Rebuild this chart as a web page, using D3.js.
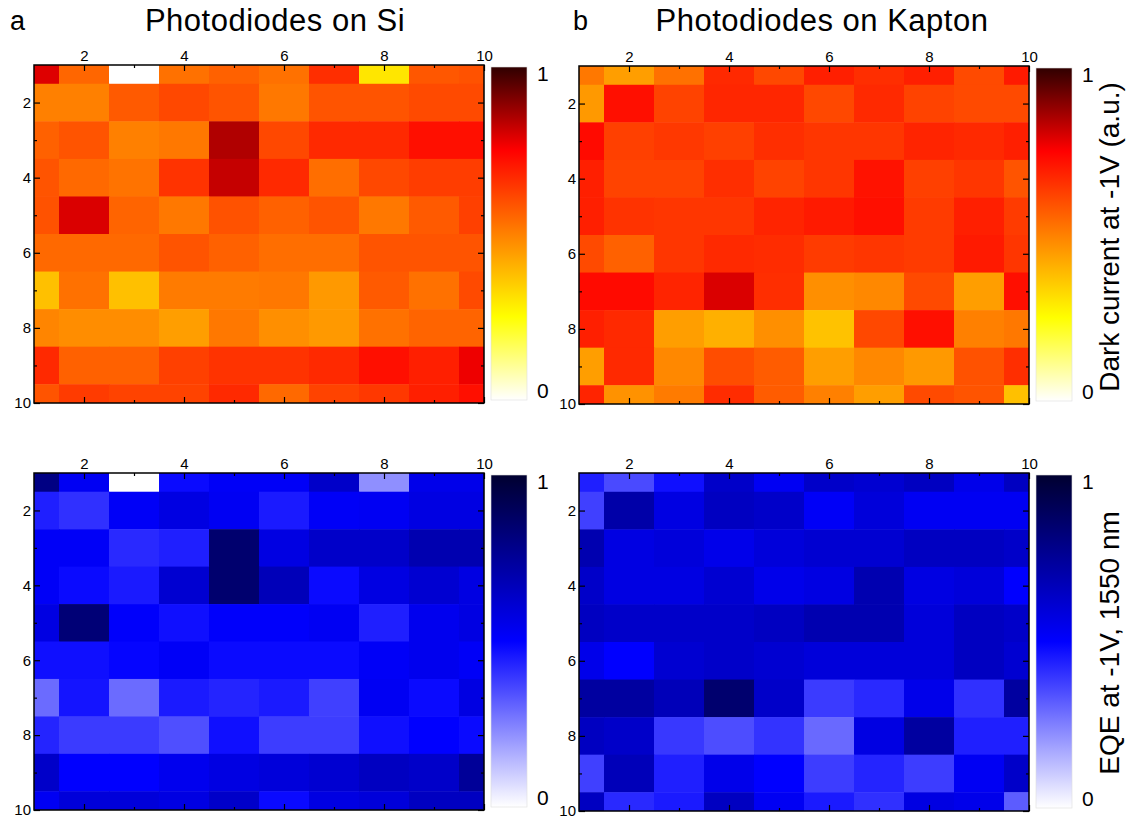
<!DOCTYPE html>
<html>
<head>
<meta charset="utf-8">
<style>
  body { margin: 0; background: #fff; }
  svg { font-family: "Liberation Sans", Arial, sans-serif; }
  .tick text { font-size: 15px; fill: #000; }
  .tick line { stroke: #000; stroke-width: 1.2; }
</style>
</head>
<body>
<svg width="1128" height="822"></svg>
<script src="https://d3js.org/d3.v7.min.js"></script>
<script>

// values, normalised 0..1, rows 1..10 top to bottom, columns 1..10
var siDark = [
  [0.79, 0.55, 0.00, 0.53, 0.56, 0.53, 0.66, 0.30, 0.58, 0.59],
  [0.50, 0.50, 0.575, 0.61, 0.585, 0.515, 0.585, 0.585, 0.605, 0.605],
  [0.56, 0.585, 0.50, 0.515, 0.845, 0.61, 0.67, 0.67, 0.72, 0.72],
  [0.585, 0.545, 0.525, 0.65, 0.82, 0.67, 0.535, 0.61, 0.63, 0.63],
  [0.59, 0.795, 0.555, 0.515, 0.59, 0.56, 0.585, 0.515, 0.575, 0.625],
  [0.545, 0.545, 0.545, 0.585, 0.56, 0.535, 0.535, 0.585, 0.585, 0.585],
  [0.375, 0.53, 0.375, 0.51, 0.51, 0.515, 0.45, 0.575, 0.53, 0.605],
  [0.49, 0.475, 0.475, 0.44, 0.515, 0.47, 0.45, 0.53, 0.555, 0.555],
  [0.67, 0.56, 0.56, 0.625, 0.65, 0.65, 0.67, 0.72, 0.69, 0.77],
  [0.585, 0.635, 0.62, 0.62, 0.67, 0.545, 0.62, 0.64, 0.69, 0.72]
];

var kaptonDark = [
  [0.515, 0.44, 0.53, 0.67, 0.61, 0.69, 0.66, 0.69, 0.605, 0.70],
  [0.45, 0.72, 0.62, 0.675, 0.675, 0.61, 0.67, 0.62, 0.605, 0.605],
  [0.73, 0.625, 0.64, 0.625, 0.66, 0.645, 0.645, 0.68, 0.67, 0.69],
  [0.69, 0.62, 0.62, 0.66, 0.62, 0.645, 0.715, 0.625, 0.645, 0.585],
  [0.69, 0.65, 0.645, 0.645, 0.68, 0.70, 0.72, 0.635, 0.69, 0.635],
  [0.605, 0.56, 0.645, 0.67, 0.665, 0.635, 0.645, 0.635, 0.70, 0.645],
  [0.73, 0.73, 0.68, 0.795, 0.66, 0.47, 0.485, 0.605, 0.44, 0.72],
  [0.69, 0.67, 0.44, 0.405, 0.47, 0.37, 0.61, 0.72, 0.50, 0.515],
  [0.44, 0.67, 0.485, 0.60, 0.57, 0.44, 0.485, 0.45, 0.59, 0.66],
  [0.68, 0.465, 0.51, 0.665, 0.57, 0.50, 0.44, 0.605, 0.585, 0.375]
];

var siEQE = [
  [0.80, 0.53, 0.00, 0.48, 0.52, 0.52, 0.63, 0.22, 0.55, 0.55],
  [0.44, 0.405, 0.52, 0.57, 0.53, 0.45, 0.52, 0.53, 0.57, 0.57],
  [0.52, 0.52, 0.42, 0.44, 0.85, 0.57, 0.63, 0.63, 0.69, 0.69],
  [0.52, 0.48, 0.45, 0.61, 0.85, 0.67, 0.48, 0.57, 0.61, 0.57],
  [0.57, 0.83, 0.51, 0.47, 0.51, 0.51, 0.53, 0.44, 0.54, 0.57],
  [0.47, 0.47, 0.49, 0.52, 0.48, 0.48, 0.48, 0.52, 0.54, 0.52],
  [0.29, 0.46, 0.29, 0.45, 0.43, 0.45, 0.375, 0.53, 0.48, 0.57],
  [0.43, 0.385, 0.385, 0.345, 0.47, 0.38, 0.38, 0.47, 0.50, 0.48],
  [0.63, 0.50, 0.50, 0.54, 0.57, 0.59, 0.61, 0.65, 0.63, 0.75],
  [0.53, 0.59, 0.59, 0.57, 0.63, 0.48, 0.57, 0.59, 0.65, 0.65]
];

var kaptonEQE = [
  [0.44, 0.355, 0.47, 0.63, 0.53, 0.63, 0.61, 0.65, 0.55, 0.65],
  [0.375, 0.71, 0.57, 0.65, 0.63, 0.52, 0.59, 0.53, 0.53, 0.53],
  [0.69, 0.57, 0.59, 0.55, 0.59, 0.61, 0.61, 0.65, 0.65, 0.63],
  [0.63, 0.57, 0.57, 0.61, 0.55, 0.57, 0.69, 0.57, 0.59, 0.50],
  [0.65, 0.63, 0.63, 0.63, 0.65, 0.69, 0.69, 0.59, 0.65, 0.63],
  [0.55, 0.50, 0.61, 0.63, 0.61, 0.59, 0.59, 0.59, 0.65, 0.61],
  [0.73, 0.73, 0.67, 0.85, 0.63, 0.385, 0.42, 0.55, 0.405, 0.73],
  [0.65, 0.63, 0.39, 0.35, 0.40, 0.295, 0.57, 0.73, 0.44, 0.44],
  [0.375, 0.67, 0.44, 0.55, 0.50, 0.38, 0.43, 0.38, 0.53, 0.63],
  [0.65, 0.42, 0.45, 0.65, 0.53, 0.45, 0.405, 0.57, 0.55, 0.32]
];

var majorTicks = [2, 4, 6, 8, 10];
var minorTicks = [3, 5, 7, 9];
var panelLetters = ["a", "b"];
var panelTitles = ["Photodiodes on Si", "Photodiodes on Kapton"];
var barTitles = ["Dark current at -1V (a.u.)", "EQE at -1V, 1550 nm"];

var svg = d3.select("svg");

// colour maps
var hot = d3.scaleLinear()
    .domain([0, 0.25, 0.5, 0.75, 1])
    .range(["#ffffff", "#ffff00", "#ff8000", "#ff0000", "#300000"])
    .clamp(true);

var blues = d3.scaleLinear()
    .domain([0, 0.5, 1])
    .range(["#ffffff", "#0000ff", "#000030"])
    .clamp(true);

var W = 450;

var panels = [
  { id: "p0", data: siDark,     x0: 34,  y0: 65,  h: 338, cmap: hot },
  { id: "p1", data: kaptonDark, x0: 579, y0: 66,  h: 338, cmap: hot },
  { id: "p2", data: siEQE,      x0: 34,  y0: 473, h: 337, cmap: blues },
  { id: "p3", data: kaptonEQE,  x0: 579, y0: 473, h: 338, cmap: blues }
];

var defs = svg.append("defs");

panels.forEach(function(p, i) {
  var x = d3.scaleLinear().domain([1, 10]).range([0, W]);
  var y = d3.scaleLinear().domain([1, 10]).range([0, p.h]);

  var g = svg.append("g").attr("transform", "translate(" + p.x0 + "," + p.y0 + ")");

  defs.append("clipPath").attr("id", "clip" + p.id)
    .append("rect").attr("width", W).attr("height", p.h);

  // cells
  var cells = [];
  p.data.forEach(function(row, r) {
    row.forEach(function(v, c) { cells.push({ row: r + 1, col: c + 1, v: v }); });
  });

  g.append("g").attr("clip-path", "url(#clip" + p.id + ")")
    .selectAll("rect")
    .data(cells)
    .enter().append("rect")
    .attr("x", function(d) { return x(d.col - 0.5); })
    .attr("y", function(d) { return y(d.row - 0.5); })
    .attr("width", x(1.5) - x(0.5) + 0.5)
    .attr("height", y(1.5) - y(0.5) + 0.5)
    .attr("fill", function(d) { return p.cmap(d.v); });

  // axes, ticks pointing inwards
  g.append("g").call(d3.axisTop(x).tickValues(majorTicks).tickSize(-6).tickPadding(4))
    .select(".domain").remove();
  g.append("g").call(d3.axisTop(x).tickValues(minorTicks).tickSize(-3).tickFormat(""))
    .select(".domain").remove();
  g.append("g").attr("transform", "translate(0," + p.h + ")")
    .call(d3.axisBottom(x).tickValues(majorTicks).tickSize(-6).tickFormat(""))
    .select(".domain").remove();
  g.append("g").attr("transform", "translate(0," + p.h + ")")
    .call(d3.axisBottom(x).tickValues(minorTicks).tickSize(-3).tickFormat(""))
    .select(".domain").remove();
  g.append("g").call(d3.axisLeft(y).tickValues(majorTicks).tickSize(-6).tickPadding(3))
    .select(".domain").remove();
  g.append("g").call(d3.axisLeft(y).tickValues(minorTicks).tickSize(-3).tickFormat(""))
    .select(".domain").remove();
  g.append("g").attr("transform", "translate(" + W + ",0)")
    .call(d3.axisRight(y).tickValues(majorTicks).tickSize(-6).tickFormat(""))
    .select(".domain").remove();
  g.append("g").attr("transform", "translate(" + W + ",0)")
    .call(d3.axisRight(y).tickValues(minorTicks).tickSize(-3).tickFormat(""))
    .select(".domain").remove();

  g.append("rect")
    .attr("width", W).attr("height", p.h)
    .attr("fill", "none").attr("stroke", "#000").attr("stroke-width", 1.5);

  // colour bar
  var cbX = W + 457 - 450, cbY = 2, cbW = 36, cbH = p.h - 5;
  var grad = defs.append("linearGradient").attr("id", "grad" + p.id)
    .attr("x1", 0).attr("y1", 1).attr("x2", 0).attr("y2", 0);
  d3.range(0, 1.0001, 0.05).forEach(function(t) {
    grad.append("stop").attr("offset", t).attr("stop-color", p.cmap(t));
  });
  var cb = g.append("g").attr("transform", "translate(" + (W + 7) + "," + cbY + ")");
  cb.append("rect").attr("width", cbW).attr("height", cbH)
    .attr("fill", "url(#grad" + p.id + ")")
    .attr("stroke", "#ddd").attr("stroke-width", 0.6);
  cb.append("text").attr("x", cbW + 10).attr("y", 8)
    .attr("dominant-baseline", "middle").attr("font-size", 21).text("1");
  cb.append("text").attr("x", cbW + 10).attr("y", cbH - 8)
    .attr("dominant-baseline", "middle").attr("font-size", 21).text("0");
});

// panel letters and titles
[0, 1].forEach(function(i) {
  var xs = [10, 573], cx = [275, 822];
  svg.append("text").attr("x", xs[i]).attr("y", 30)
    .attr("font-size", 27).text(panelLetters[i]);
  svg.append("text").attr("x", cx[i]).attr("y", 31)
    .attr("text-anchor", "middle").attr("font-size", 31)
    .attr("letter-spacing", 0.5).text(panelTitles[i]);
});

// colour bar titles
[237, 643].forEach(function(cy, i) {
  svg.append("text")
    .attr("transform", "translate(1119," + cy + ") rotate(-90)")
    .attr("text-anchor", "middle").attr("font-size", 28)
    .text(barTitles[i]);
});

</script>
</body>
</html>
